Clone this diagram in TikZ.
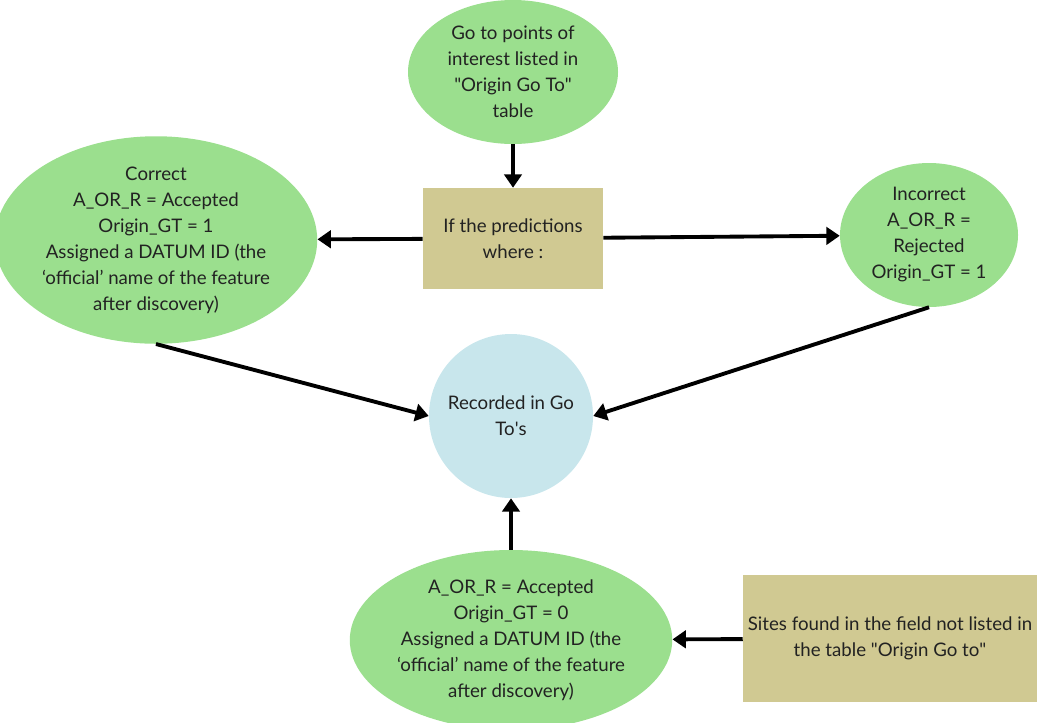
\documentclass[tikz,border=0pt]{standalone}
\usepackage{fontspec}
\setmainfont{Lato}
\usetikzlibrary{shapes.geometric,arrows.meta}

\definecolor{leafgreen}{HTML}{9BDF8E}
\definecolor{khaki}{HTML}{D0C992}
\definecolor{paleblue}{HTML}{C8E6EC}
\definecolor{inkgrey}{HTML}{222222}

\begin{document}
\begin{tikzpicture}[x=0.75pt,y=-0.75pt,
  font=\fontsize{14}{19.5}\selectfont,
  blob/.style={ellipse,fill=leafgreen,text=inkgrey,align=center,inner sep=0pt},
  panel/.style={rectangle,fill=khaki,text=inkgrey,align=center,inner sep=0pt},
  flow/.style={line width=2.9pt,-{Triangle[length=10pt,width=13pt]}}]

\useasboundingbox (0,0) rectangle (1037,722);

\node[blob,minimum width=157.5pt,minimum height=108pt] (goto) at (513,72)
  {Go to points of\\interest listed in\\\textquotedbl Origin Go To\textquotedbl\\table};
\node[panel,minimum width=135pt,minimum height=75.75pt] (pred) at (513,238.5)
  {If the predictions\\where :};
\node[blob,minimum width=231pt,minimum height=154.5pt] (correct) at (156,240)
  {Correct\\A\_OR\_R = Accepted\\Origin\_GT = 1\\Assigned a DATUM ID (the\\‘official’ name of the feature\\after discovery)};
\node[blob,minimum width=133.5pt,minimum height=108pt] (wrong) at (929,235)
  {Incorrect\\A\_OR\_R =\\Rejected\\Origin\_GT = 1};
\node[circle,fill=paleblue,text=inkgrey,align=center,inner sep=0pt,minimum size=123pt] (rec) at (511,416)
  {Recorded in Go\\To\textquotesingle s};
\node[blob,minimum width=226.5pt,minimum height=135pt] (found) at (511,640)
  {A\_OR\_R = Accepted\\Origin\_GT = 0\\Assigned a DATUM ID (the\\‘official’ name of the feature\\after discovery)};
\node[panel,minimum width=220.5pt,minimum height=95.25pt] (sites) at (890,638.5)
  {Sites found in the field not listed in\\the table \textquotedbl Origin Go to\textquotedbl};

\draw[flow] (goto) -- (pred);
\draw[flow] (pred) -- (correct);
\draw[flow] (pred) -- (wrong);
\draw[flow] (correct.south) -- (rec.west);
\draw[flow] (wrong.south) -- (rec.east);
\draw[flow] (found) -- (rec);
\draw[flow] (sites) -- (found);
\end{tikzpicture}
\end{document}
